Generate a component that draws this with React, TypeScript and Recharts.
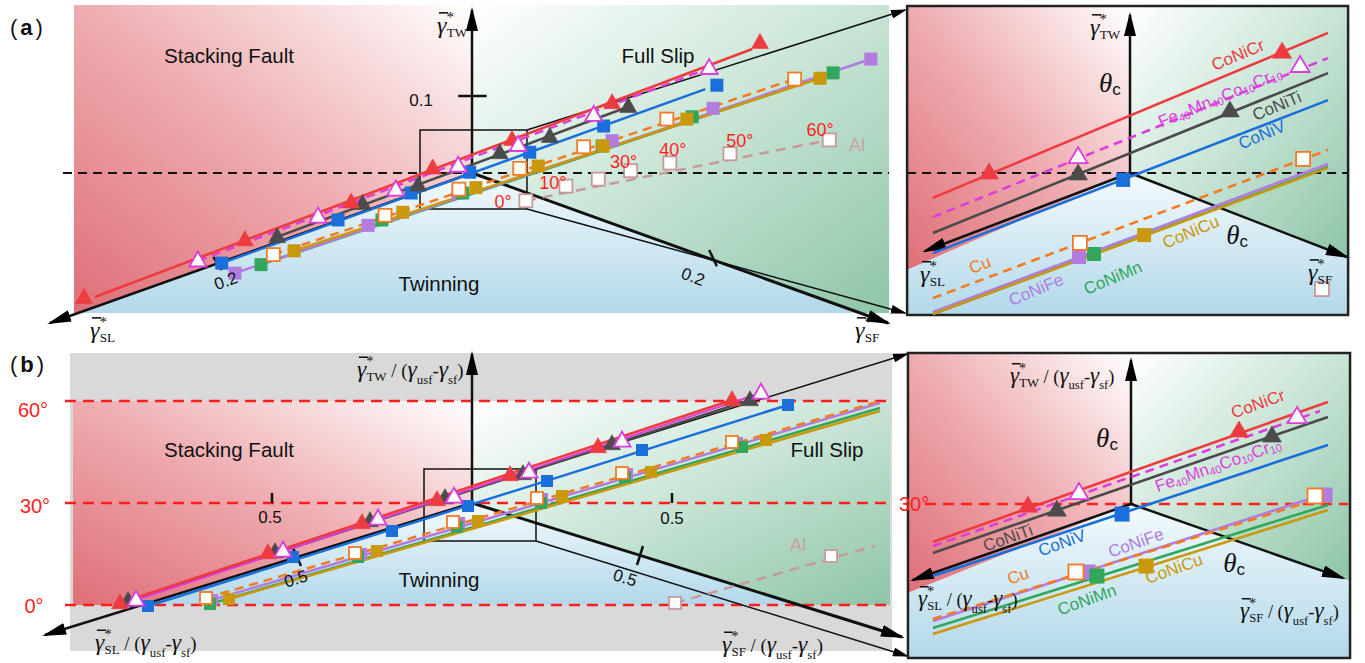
import React from 'react';
import { ComposedChart, XAxis, YAxis, Line, Scatter, Area, ReferenceLine, ReferenceDot, ReferenceArea } from 'recharts';

type T = [number, number];
type R = [number, number, number];

const SANS = "'Liberation Sans', Arial, Helvetica, sans-serif";
const SERIF = "'Liberation Serif', 'Times New Roman', 'DejaVu Serif', serif";

// ---------------- panel (a) main : marker positions (γ-plane units, 0.1 tick on γTW)
const aCoNiCr: T[] = [[-0.504, -0.162], [-0.295, -0.087], [-0.157, -0.038], [-0.051, 0.006], [0.052, 0.043], [0.182, 0.091], [0.374, 0.169]];
const aFe: T[] = [[-0.356, -0.114], [-0.2, -0.057], [-0.099, -0.022], [-0.018, 0.009], [0.06, 0.036], [0.158, 0.075], [0.308, 0.136]];
const aCoNiTi: T[] = [[-0.253, -0.083], [-0.142, -0.04], [-0.07, -0.016], [0.036, 0.026], [0.101, 0.047], [0.203, 0.086]];
const aCoNiV: T[] = [[-0.325, -0.117], [-0.174, -0.061], [-0.079, -0.026], [-0.003, 0.001], [0.075, 0.027], [0.171, 0.061], [0.318, 0.114]];
const aCu: T[] = [[-0.258, -0.106], [-0.113, -0.055], [-0.017, -0.021], [0.062, 0.006], [0.145, 0.034], [0.253, 0.07], [0.419, 0.122]];
const aCoNiFe: T[] = [[-0.308, -0.13], [-0.135, -0.068], [-0.018, -0.026], [0.182, 0.042], [0.313, 0.084], [0.518, 0.148]];
const aCoNiMn: T[] = [[-0.274, -0.119], [-0.117, -0.061], [-0.012, -0.026], [0.169, 0.035], [0.286, 0.073], [0.469, 0.13]];
const aCoNiCu: T[] = [[-0.231, -0.101], [-0.09, -0.051], [0.005, -0.019], [0.086, 0.009], [0.17, 0.035], [0.279, 0.07], [0.452, 0.123]];
const aAl: T[] = [[0.07, -0.036], [0.122, -0.017], [0.164, -0.008], [0.206, 0.003], [0.257, 0.013], [0.335, 0.025], [0.464, 0.043]];
const aAlAngles = ['0°', '10°', '', '30°', '40°', '50°', '60°'];
// fitted lines (end points)
const aLineCoNiCr: T[] = [[-0.49, -0.161], [0.364, 0.161]];
const aLineFe: T[] = [[-0.356, -0.114], [0.308, 0.136]];
const aLineCoNiTi: T[] = [[-0.253, -0.083], [0.203, 0.086]];
const aLineCoNiV: T[] = [[-0.325, -0.117], [0.303, 0.109]];
const aLineCu: T[] = [[-0.258, -0.106], [0.419, 0.122]];
const aLineCoNiFe: T[] = [[-0.308, -0.13], [0.518, 0.148]];
const aLineCoNiMn: T[] = [[-0.274, -0.119], [0.469, 0.13]];
const aLineCoNiCu: T[] = [[-0.231, -0.101], [0.452, 0.123]];
const aLineAl: T[] = [[0.07, -0.036], [0.464, 0.043]];

// ---------------- panel (a) inset
const iaCoNiCr: T[] = [[-0.047, 0.0], [0.0507, 0.0403]];
const iaFe: T[] = [[-0.0173, 0.0053], [0.0567, 0.0357]];
const iaCoNiTi: T[] = [[-0.0173, -0.0003], [0.0333, 0.0207]];
const iaCoNiV: T[] = [[-0.0023, -0.0023]];
const iaCu: T[] = [[-0.0167, -0.0233], [0.0577, 0.0047]];
const iaCoNiFe: T[] = [[-0.017, -0.028]];
const iaCoNiMn: T[] = [[-0.012, -0.027]];
const iaCoNiCu: T[] = [[0.0047, -0.0207]];
const iaAl: T[] = [[0.064, -0.0387]];
const iaLineCoNiCr: T[] = [[-0.0657, -0.0083], [0.066, 0.0467]];
const iaLineFe: T[] = [[-0.0657, -0.0147], [0.066, 0.0383]];
const iaLineCoNiTi: T[] = [[-0.0657, -0.02], [0.066, 0.0333]];
const iaLineCoNiV: T[] = [[-0.0657, -0.0267], [0.066, 0.0243]];
const iaLineCu: T[] = [[-0.0657, -0.0417], [0.066, 0.0077]];
const iaLineCoNiFe: T[] = [[-0.0657, -0.0463], [0.066, 0.003]];
const iaLineCoNiMn: T[] = [[-0.0657, -0.047], [0.066, 0.002]];
const iaLineCoNiCu: T[] = [[-0.0657, -0.047], [0.066, 0.0017]];

// ---------------- panel (b) main (normalised, 0.5 tick)
const bCoNiCr: T[] = [[-0.88, -0.25], [-0.51, -0.125], [-0.275, -0.05], [-0.0875, 0.0075], [0.095, 0.07], [0.315, 0.14], [0.65, 0.2575]];
const bFe: T[] = [[-0.84, -0.2425], [-0.4725, -0.12], [-0.235, -0.04], [-0.045, 0.015], [0.1425, 0.0775], [0.375, 0.155], [0.7225, 0.275]];
const bCoNiTi: T[] = [[-0.86, -0.245], [-0.4925, -0.1225], [-0.255, -0.045], [-0.0675, 0.0125], [0.1275, 0.0725], [0.35, 0.1475], [0.695, 0.2575]];
const bCoNiV: T[] = [[-0.81, -0.2575], [-0.4475, -0.135], [-0.2, -0.07], [-0.01, -0.0075], [0.1875, 0.055], [0.425, 0.1325], [0.79, 0.245]];
const bCu: T[] = [[-0.665, -0.2375], [-0.2925, -0.125], [-0.0475, -0.0475], [0.1625, 0.0125], [0.375, 0.075], [0.65, 0.1525]];
const bCoNiFe: T[] = [[-0.65, -0.2425], [-0.2775, -0.1275], [-0.0325, -0.05], [0.175, 0.01], [0.3875, 0.0725], [0.6625, 0.15]];
const bCoNiMn: T[] = [[-0.655, -0.2525], [-0.285, -0.135], [-0.0375, -0.06], [0.1725, 0.0], [0.3825, 0.065], [0.675, 0.14]];
const bCoNiCu: T[] = [[-0.6075, -0.24], [-0.2375, -0.12], [0.015, -0.045], [0.225, 0.0175], [0.4475, 0.0775], [0.735, 0.1575]];
const bAl: T[] = [[0.5075, -0.25], [0.8975, -0.1325]];
const bLineCoNiCr: T[] = [[-0.88, -0.25], [0.65, 0.2575]];
const bLineFe: T[] = [[-0.84, -0.2425], [0.7225, 0.275]];
const bLineCoNiTi: T[] = [[-0.86, -0.245], [0.695, 0.2575]];
const bLineCoNiV: T[] = [[-0.81, -0.2575], [0.79, 0.245]];
const bLineCu: T[] = [[-0.665, -0.2375], [1.02, 0.255]];
const bLineCoNiFe: T[] = [[-0.65, -0.2425], [1.02, 0.25]];
const bLineCoNiMn: T[] = [[-0.655, -0.2525], [1.02, 0.2375]];
const bLineCoNiCu: T[] = [[-0.6075, -0.24], [1.02, 0.23]];
const bLineAl: T[] = [[0.5075, -0.25], [1.0075, -0.1075]];

// ---------------- panel (b) inset
const ibCoNiCr: T[] = [[-0.0644, -0.0013], [0.0675, 0.0456]];
const ibFe: T[] = [[-0.0325, 0.0069], [0.1038, 0.0544]];
const ibCoNiTi: T[] = [[-0.0463, -0.0038], [0.0881, 0.0425]];
const ibCoNiV: T[] = [[-0.0056, -0.0063]];
const ibCu: T[] = [[-0.0344, -0.0425], [0.115, 0.005]];
const ibCoNiFe: T[] = [[-0.0269, -0.0425], [0.1213, 0.0056]];
const ibCoNiMn: T[] = [[-0.0213, -0.045]];
const ibCoNiCu: T[] = [[0.0094, -0.0388]];
const ibLineCoNiCr: T[] = [[-0.1238, -0.0238], [0.1231, 0.0638]];
const ibLineFe: T[] = [[-0.1238, -0.0263], [0.1181, 0.0581]];
const ibLineCoNiTi: T[] = [[-0.1238, -0.0306], [0.1231, 0.0544]];
const ibLineCoNiV: T[] = [[-0.1238, -0.045], [0.1231, 0.0369]];
const ibLineCu: T[] = [[-0.1238, -0.0719], [0.1231, 0.005]];
const ibLineCoNiFe: T[] = [[-0.1238, -0.0731], [0.1231, 0.0069]];
const ibLineCoNiMn: T[] = [[-0.1238, -0.0775], [0.1231, -0.0006]];
const ibLineCoNiCu: T[] = [[-0.1238, -0.0813], [0.1231, -0.0038]];

// ---------------- regions [x, low, high]
const aRed: R[] = [[-0.5169, -0.1818, 0.2182], [-0.5114, -0.1818, 0.2182], [0, 0, 0.2182]];
const aGreen: R[] = [[0, 0, 0.2182], [0.5042, -0.1818, 0.2182], [0.5416, -0.1818, 0.2182]];
const aBlue: R[] = [[-0.5114, -0.1818, -0.1818], [0, -0.1818, 0], [0.5042, -0.1818, -0.1818]];
const iaRed: R[] = [[-0.0743, -0.0323, 0.0557], [0, 0, 0.0557]];
const iaGreen: R[] = [[0, 0, 0.0557], [0.0727, -0.0283, 0.0557]];
const iaBlue: R[] = [[-0.0743, -0.0473, -0.0323], [0, -0.0473, 0], [0.0727, -0.0473, -0.0283]];
const bGray: R[] = [[-1.005, -0.37, 0.375], [1.05, -0.37, 0.375]];
const bRed: R[] = [[-0.9975, -0.255, 0.255], [-0.8252, -0.255, 0.255], [0, 0, 0.255]];
const bGreen: R[] = [[0, 0, 0.255], [0.8173, -0.255, 0.255], [1.045, -0.255, 0.255]];
const bBlue: R[] = [[-0.8252, -0.255, -0.255], [0, -0.255, 0], [0.8173, -0.255, -0.255]];
const ibRed: R[] = [[-0.1394, -0.0556, 0.0944], [0, 0, 0.0944]];
const ibGreen: R[] = [[0, 0, 0.0944], [0.1369, -0.0481, 0.0944]];
const ibBlue: R[] = [[-0.1394, -0.0963, -0.0556], [0, -0.0963, 0], [0.1369, -0.0963, -0.0481]];

// ---------------- styles
const SERIES: Record<string, { color: string; shape: string; hollow: boolean; dash?: string; name: string }> = {
  CoNiCr: { color: '#ee3b40', shape: 'tri', hollow: false, name: 'CoNiCr' },
  Fe: { color: '#dc3edc', shape: 'tri', hollow: true, dash: '9 6', name: 'Fe40Mn40Co10Cr10' },
  CoNiTi: { color: '#4b4b4b', shape: 'tri', hollow: false, name: 'CoNiTi' },
  CoNiV: { color: '#1b6fdb', shape: 'sq', hollow: false, name: 'CoNiV' },
  Cu: { color: '#f47a22', shape: 'sq', hollow: true, dash: '9 6', name: 'Cu' },
  CoNiFe: { color: '#b07ce0', shape: 'sq', hollow: false, name: 'CoNiFe' },
  CoNiMn: { color: '#30a75a', shape: 'sq', hollow: false, name: 'CoNiMn' },
  CoNiCu: { color: '#c9980d', shape: 'sq', hollow: false, name: 'CoNiCu' },
  Al: { color: '#c69a9a', shape: 'sq', hollow: true, dash: '10 7', name: 'Al' },
};
const LINE_ORDER = ['Al', 'CoNiMn', 'CoNiFe', 'CoNiCu', 'Cu', 'CoNiV', 'CoNiTi', 'Fe', 'CoNiCr'];
const MARK_ORDER = ['Al', 'CoNiFe', 'CoNiMn', 'CoNiCu', 'Cu', 'CoNiV', 'CoNiTi', 'CoNiCr', 'Fe'];
const RED = '#ff1f1f';

const xy = (a: T[]) => a.map(([x, y]) => ({ x, y }));
const xr = (a: R[]) => a.map(([x, lo, hi]) => ({ x, r: [lo, hi] }));

// ---------------- helpers
function seg(key: string, a: T, b: T, o: any = {}) {
  const color = o.color || '#111';
  const w = o.w || 2.5;
  return (
    <ReferenceLine
      key={key}
      segment={[{ x: a[0], y: a[1] }, { x: b[0], y: b[1] }]}
      ifOverflow="visible"
      zIndex={350}
      stroke={color}
      shape={(q: any) => (
        <line x1={q.x1} y1={q.y1} x2={q.x2} y2={q.y2} stroke={color} strokeWidth={w}
          strokeDasharray={o.dash} markerEnd={o.arrow ? `url(#${o.arrow})` : undefined} />
      )}
    />
  );
}

function note(key: string, at: T, node: (cx: number, cy: number) => React.ReactNode) {
  return (
    <ReferenceDot key={key} x={at[0]} y={at[1]} r={0} ifOverflow="visible" zIndex={2000}
      shape={(q: any) => <g>{node(q.cx, q.cy)}</g>} />
  );
}

const plain = (text: string, o: any = {}) => (cx: number, cy: number) => (
  <text x={cx} y={cy} textAnchor="middle" dominantBaseline="central" fontFamily={o.family || SANS}
    fontSize={o.size || 17} fill={o.color || '#111'} fontWeight={o.weight}
    transform={o.rot ? `rotate(${o.rot} ${cx} ${cy})` : undefined}>{text}</text>
);

const feLabel = (rot: number) => (cx: number, cy: number) => (
  <text x={cx} y={cy} textAnchor="middle" dominantBaseline="central" fontFamily={SANS} fontSize={17}
    fill={SERIES.Fe.color} transform={`rotate(${rot} ${cx} ${cy})`}>
    Fe<tspan fontSize={11} dy={4}>40</tspan><tspan dy={-4}>Mn</tspan><tspan fontSize={11} dy={4}>40</tspan>
    <tspan dy={-4}>Co</tspan><tspan fontSize={11} dy={4}>10</tspan><tspan dy={-4}>Cr</tspan>
    <tspan fontSize={11} dy={4}>10</tspan>
  </text>
);

const theta = (cx: number, cy: number) => (
  <text x={cx} y={cy} textAnchor="middle" dominantBaseline="central" fill="#111">
    <tspan fontFamily={SERIF} fontStyle="italic" fontSize={27}>θ</tspan>
    <tspan fontFamily={SANS} fontSize={17} dy={6}>c</tspan>
  </text>
);

// γ̄* label: overbar drawn as a short stroke over the italic γ
const gam = (sub: string, norm: boolean, s: number) => (cx: number, cy: number) => (
  <g>
    <line x1={cx + s * 0.08} x2={cx + s * 0.46} y1={cy - s * 0.84} y2={cy - s * 0.84} stroke="#111"
      strokeWidth={Math.max(1.3, s * 0.065)} />
    <text x={cx} y={cy} fontFamily={SERIF} fontSize={s} fill="#111">
      <tspan fontStyle="italic">γ</tspan>
      <tspan fontSize={s * 0.62} dy={-s * 0.45}>*</tspan>
      <tspan fontSize={s * 0.55} dx={-s * 0.3} dy={s * 0.63}>{sub}</tspan>
      {norm ? <tspan fontSize={s * 0.8} dy={-s * 0.18}>{' / ('}</tspan> : null}
      {norm ? <tspan fontStyle="italic">γ</tspan> : null}
      {norm ? <tspan fontSize={s * 0.55} dy={s * 0.28}>usf</tspan> : null}
      {norm ? <tspan fontSize={s * 0.8} dy={-s * 0.28}>-</tspan> : null}
      {norm ? <tspan fontStyle="italic">γ</tspan> : null}
      {norm ? <tspan fontSize={s * 0.55} dy={s * 0.28}>sf</tspan> : null}
      {norm ? <tspan fontSize={s * 0.8} dy={-s * 0.28}>)</tspan> : null}
    </text>
  </g>
);

const panelTag = (letter: string) => (cx: number, cy: number) => (
  <text x={cx} y={cy} fontFamily={SANS} fontSize={22} fill="#111">
    (<tspan fontWeight="bold" dx={3}>{letter}</tspan><tspan dx={3}>)</tspan>
  </text>
);

const markShape = (key: string, sz: any) => (q: any) => {
  const st = SERIES[key];
  const cx = q.cx, cy = q.cy;
  if (cx == null || cy == null) return <g />;
  if (st.shape === 'tri') {
    const w = sz.tw, h = sz.th;
    const p = `${cx},${cy - h * 0.62} ${cx - w / 2},${cy + h * 0.38} ${cx + w / 2},${cy + h * 0.38}`;
    return <polygon points={p} fill={st.hollow ? '#fff' : st.color} stroke={st.color} strokeWidth={st.hollow ? 1.8 : 0.6} />;
  }
  const s = sz.sq;
  return <rect x={cx - s / 2} y={cy - s / 2} width={s} height={s} fill={st.hollow ? '#fff' : st.color}
    stroke={st.hollow ? st.color : 'none'} strokeWidth={1.8} />;
};

function Defs({ id }: { id: string }) {
  return (
    <defs>
      <linearGradient id={`${id}-red`} x1="0" y1="1" x2="1" y2="0">
        <stop offset="0" stopColor="#df6f77" />
        <stop offset="0.5" stopColor="#eeacb0" />
        <stop offset="1" stopColor="#ffffff" />
      </linearGradient>
      <linearGradient id={`${id}-green`} x1="0" y1="0" x2="1" y2="1">
        <stop offset="0" stopColor="#ffffff" />
        <stop offset="0.45" stopColor="#cde7d9" />
        <stop offset="1" stopColor="#8ec5a8" />
      </linearGradient>
      <linearGradient id={`${id}-blue`} x1="0" y1="0" x2="0" y2="1">
        <stop offset="0" stopColor="#f4fafd" />
        <stop offset="1" stopColor="#b2d8ea" />
      </linearGradient>
      <marker id={`${id}-arr`} viewBox="0 0 24 12" refX="21" refY="6" markerWidth="24" markerHeight="12"
        markerUnits="userSpaceOnUse" orient="auto">
        <path d="M0,0 L24,6 L0,12 z" fill="#000" />
      </marker>
      <marker id={`${id}-arrs`} viewBox="0 0 16 9" refX="14" refY="4.5" markerWidth="16" markerHeight="9"
        markerUnits="userSpaceOnUse" orient="auto">
        <path d="M0,0 L16,4.5 L0,9 z" fill="#000" />
      </marker>
    </defs>
  );
}

function Panel({ cfg }: { cfg: any }) {
  const { id, L, pts, lines, regions, sz, lw, back, axes, notes } = cfg;
  const solid: string[] = cfg.solid || [];
  const xd = [-L.ox / L.s, (L.w - L.ox) / L.s];
  const yd = [(L.oy - L.h) / L.s, L.oy / L.s];
  return (
    <div style={{ position: 'absolute', left: L.left, top: L.top, width: L.w, height: L.h }}>
      <ComposedChart width={L.w} height={L.h} margin={{ top: 0, right: 0, bottom: 0, left: 0 }}>
        <Defs id={id} />
        <XAxis type="number" dataKey="x" domain={xd} hide allowDataOverflow />
        <YAxis type="number" dataKey="y" domain={yd} hide allowDataOverflow />
        {regions.map((g: any, i: number) => (
          <Area key={`rg${i}`} data={xr(g.data)} dataKey="r" type="linear" stroke="none"
            fill={g.fill.startsWith('#') ? g.fill : `url(#${id}-${g.fill})`} fillOpacity={1}
            isAnimationActive={false} dot={false} activeDot={false} legendType="none" />
        ))}
        {back}
        {LINE_ORDER.filter((k) => lines[k]).map((k) => (
          <Line key={`ln-${k}`} data={xy(lines[k])} dataKey="y" type="linear" stroke={SERIES[k].color}
            strokeWidth={solid.includes(k) ? 2 : lw} strokeDasharray={solid.includes(k) ? undefined : SERIES[k].dash}
            dot={false} activeDot={false} isAnimationActive={false} legendType="none" />
        ))}
        {axes}
        {MARK_ORDER.filter((k) => pts[k]).map((k) => (
          <Scatter key={`mk-${k}`} data={xy(pts[k])} dataKey="y" isAnimationActive={false}
            shape={markShape(k, sz)} legendType="none" />
        ))}
        {notes}
      </ComposedChart>
    </div>
  );
}

// ---------------- panel configs
const aMain = {
  id: 'am',
  L: { left: 0, top: 0, w: 912, h: 362, ox: 472, oy: 173, s: 770 },
  pts: { CoNiCr: aCoNiCr, Fe: aFe, CoNiTi: aCoNiTi, CoNiV: aCoNiV, Cu: aCu, CoNiFe: aCoNiFe, CoNiMn: aCoNiMn, CoNiCu: aCoNiCu, Al: aAl },
  lines: { CoNiCr: aLineCoNiCr, Fe: aLineFe, CoNiTi: aLineCoNiTi, CoNiV: aLineCoNiV, Cu: aLineCu, CoNiFe: aLineCoNiFe, CoNiMn: aLineCoNiMn, CoNiCu: aLineCoNiCu, Al: aLineAl },
  regions: [{ data: aRed, fill: 'red' }, { data: aGreen, fill: 'green' }, { data: aBlue, fill: 'blue' }],
  sz: { tw: 17, th: 15, sq: 13 },
  lw: 2.5,
  back: [
    seg('dash', [-0.5312, 0], [0.5416, 0], { w: 1.8, dash: '9 6' }),
  ],
  axes: [
    seg('tw', [0, 0], [0, 0.2117], { arrow: 'am-arr' }),
    seg('sl', [0, 0], [-0.548, -0.1948], { arrow: 'am-arr' }),
    seg('sf', [0, 0], [0.5403, -0.1948], { arrow: 'am-arr', w: 3 }),
    seg('t1', [-0.018, 0.1], [0.019, 0.1]),
    seg('t2', [-0.336, -0.109], [-0.325, -0.126]),
    seg('t3', [0.308, -0.1], [0.318, -0.121]),
    seg('c1', [0.0714, 0.0558], [0.5623, 0.2117], { w: 1.5, arrow: 'am-arrs' }),
    seg('c2', [0.0714, -0.0468], [0.5623, -0.1818], { w: 1.5, arrow: 'am-arrs' }),
    <ReferenceArea key="box" x1={-0.0675} x2={0.0714} y1={-0.0468} y2={0.0558} fill="none" fillOpacity={0}
      stroke="#111" strokeWidth={1.5} ifOverflow="visible" zIndex={350} />,
  ],
  notes: [
    note('tag', [-0.6, 0.1792], panelTag('a')),
    note('sfl', [-0.3156, 0.152], plain('Stacking Fault', { size: 20.5 })),
    note('fsl', [0.2416, 0.152], plain('Full Slip', { size: 20.5 })),
    note('twl', [-0.0429, -0.1429], plain('Twinning', { size: 20.5 })),
    note('v01', [-0.0662, 0.0948], plain('0.1', { size: 17 })),
    note('v02a', [-0.3195, -0.1403], plain('0.2', { size: 17, rot: -20 })),
    note('v02b', [0.287, -0.135], plain('0.2', { size: 17, rot: 20 })),
    note('ang0', [0.0403, -0.0377], plain(aAlAngles[0], { size: 18, color: RED })),
    note('ang1', [0.105, -0.013], plain(aAlAngles[1], { size: 18, color: RED })),
    note('ang3', [0.197, 0.0143], plain(aAlAngles[3], { size: 18, color: RED })),
    note('ang4', [0.261, 0.0299], plain(aAlAngles[4], { size: 18, color: RED })),
    note('ang5', [0.348, 0.0416], plain(aAlAngles[5], { size: 18, color: RED })),
    note('ang6', [0.452, 0.0558], plain(aAlAngles[6], { size: 18, color: RED })),
    note('al', [0.5, 0.0364], plain('Al', { size: 18, color: '#c9a3a3' })),
    note('gtw', [-0.0455, 0.1818], gam('TW', false, 24)),
    note('gsl', [-0.4961, -0.2143], gam('SL', false, 24)),
    note('gsf', [0.4974, -0.2143], gam('SF', false, 24)),
  ],
};

const ROT_IA = -22.7;
const aInset = {
  id: 'ai',
  L: { left: 900, top: 0, w: 465, h: 330, ox: 230, oy: 173, s: 3000 },
  pts: { CoNiCr: iaCoNiCr, Fe: iaFe, CoNiTi: iaCoNiTi, CoNiV: iaCoNiV, Cu: iaCu, CoNiFe: iaCoNiFe, CoNiMn: iaCoNiMn, CoNiCu: iaCoNiCu, Al: iaAl },
  lines: { CoNiCr: iaLineCoNiCr, Fe: iaLineFe, CoNiTi: iaLineCoNiTi, CoNiV: iaLineCoNiV, Cu: iaLineCu, CoNiFe: iaLineCoNiFe, CoNiMn: iaLineCoNiMn, CoNiCu: iaLineCoNiCu },
  regions: [{ data: iaRed, fill: 'red' }, { data: iaGreen, fill: 'green' }, { data: iaBlue, fill: 'blue' }],
  sz: { tw: 19, th: 16, sq: 14 },
  lw: 2.6,
  back: [seg('dash', [-0.0743, 0], [0.0727, 0], { w: 1.8, dash: '9 6' })],
  axes: [
    seg('tw', [0, 0], [0, 0.0527], { arrow: 'ai-arr' }),
    seg('sl', [0, 0], [-0.0683, -0.026], { arrow: 'ai-arr' }),
    seg('sf', [0, 0], [0.0723, -0.028], { arrow: 'ai-arr' }),
    <ReferenceArea key="border" x1={-0.0743} x2={0.0727} y1={-0.0473} y2={0.0557} fill="none" fillOpacity={0}
      stroke="#222" strokeWidth={2.5} ifOverflow="visible" zIndex={350} />,
  ],
  notes: [
    note('cr', [0.036, 0.0393], plain('CoNiCr', { color: SERIES.CoNiCr.color, rot: ROT_IA })),
    note('fe', [0.03, 0.0253], feLabel(ROT_IA)),
    note('ti', [0.049, 0.0223], plain('CoNiTi', { color: SERIES.CoNiTi.color, rot: ROT_IA })),
    note('v', [0.044, 0.0127], plain('CoNiV', { color: SERIES.CoNiV.color, rot: ROT_IA })),
    note('cu', [-0.05, -0.0307], plain('Cu', { color: SERIES.Cu.color, rot: ROT_IA })),
    note('nfe', [-0.0313, -0.039], plain('CoNiFe', { color: SERIES.CoNiFe.color, rot: ROT_IA })),
    note('mn', [-0.0057, -0.035], plain('CoNiMn', { color: SERIES.CoNiMn.color, rot: ROT_IA })),
    note('ncu', [0.0203, -0.0197], plain('CoNiCu', { color: SERIES.CoNiCu.color, rot: ROT_IA })),
    note('th1', [-0.0067, 0.03], theta),
    note('th2', [0.0357, -0.0207], theta),
    note('gtw', [-0.0133, 0.046], gam('TW', false, 24)),
    note('gsl', [-0.07, -0.0363], gam('SL', false, 24)),
    note('gsf', [0.0593, -0.0357], gam('SF', false, 24)),
  ],
};

const bMain = {
  id: 'bm',
  L: { left: 0, top: 330, w: 912, h: 333, ox: 472, oy: 173, s: 400 },
  pts: { CoNiCr: bCoNiCr, Fe: bFe, CoNiTi: bCoNiTi, CoNiV: bCoNiV, Cu: bCu, CoNiFe: bCoNiFe, CoNiMn: bCoNiMn, CoNiCu: bCoNiCu, Al: bAl },
  lines: { CoNiCr: bLineCoNiCr, Fe: bLineFe, CoNiTi: bLineCoNiTi, CoNiV: bLineCoNiV, Cu: bLineCu, CoNiFe: bLineCoNiFe, CoNiMn: bLineCoNiMn, CoNiCu: bLineCoNiCu, Al: bLineAl },
  solid: ['Fe'],
  regions: [{ data: bGray, fill: '#d9d9d9' }, { data: bRed, fill: 'red' }, { data: bGreen, fill: 'green' }, { data: bBlue, fill: 'blue' }],
  sz: { tw: 17, th: 15, sq: 12 },
  lw: 2.5,
  back: [
    seg('d60', [-1.0175, 0.255], [1.045, 0.255], { w: 2.5, dash: '11 7', color: RED }),
    seg('d30', [-1.0175, 0], [1.045, 0], { w: 2.5, dash: '11 7', color: RED }),
    seg('d0', [-1.0175, -0.255], [1.045, -0.255], { w: 2.5, dash: '11 7', color: RED }),
  ],
  axes: [
    seg('tw', [0, 0], [0, 0.3725], { arrow: 'bm-arr' }),
    seg('sl', [0, 0], [-1.0675, -0.33], { arrow: 'bm-arr' }),
    seg('sf', [0, 0], [1.075, -0.335], { arrow: 'bm-arr', w: 3 }),
    seg('t1', [-0.5, 0], [-0.5, 0.025]),
    seg('t2', [0.5, 0], [0.5, 0.025]),
    seg('t3', [-0.4475, -0.1125], [-0.4275, -0.1575]),
    seg('t4', [0.4275, -0.1075], [0.4125, -0.155]),
    seg('c1', [0.16, 0.085], [1.0875, 0.3725], { w: 1.5, arrow: 'bm-arrs' }),
    seg('c2', [0.16, -0.095], [1.0875, -0.3825], { w: 1.5, arrow: 'bm-arrs' }),
    <ReferenceArea key="box" x1={-0.12} x2={0.16} y1={-0.095} y2={0.085} fill="none" fillOpacity={0}
      stroke="#111" strokeWidth={1.5} ifOverflow="visible" zIndex={350} />,
  ],
  notes: [
    note('tag', [-1.155, 0.3275], panelTag('b')),
    note('a60', [-1.0975, 0.2325], plain('60°', { size: 20, color: RED })),
    note('a30', [-1.0925, -0.0075], plain('30°', { size: 20, color: RED })),
    note('a0', [-1.095, -0.2575], plain('0°', { size: 20, color: RED })),
    note('h1', [-0.505, -0.035], plain('0.5', { size: 17 })),
    note('h2', [0.5, -0.0375], plain('0.5', { size: 17 })),
    note('h3', [-0.44, -0.19], plain('0.5', { size: 17, rot: -17 })),
    note('h4', [0.3825, -0.1875], plain('0.5', { size: 17, rot: 17 })),
    note('sfl', [-0.6075, 0.135], plain('Stacking Fault', { size: 20.5 })),
    note('fsl', [0.8875, 0.135], plain('Full Slip', { size: 20.5 })),
    note('twl', [-0.0825, -0.19], plain('Twinning', { size: 20.5 })),
    note('al', [0.815, -0.105], plain('Al', { size: 18, color: '#c9a3a3' })),
    note('gtw', [-0.2875, 0.315], gam('TW', true, 23.5)),
    note('gsl', [-0.9425, -0.3675], gam('SL', true, 23.5)),
    note('gsf', [0.625, -0.3725], gam('SF', true, 23.5)),
  ],
};

const ROT_IB = -19.5;
const bInset = {
  id: 'bi',
  L: { left: 885, top: 340, w: 480, h: 323, ox: 246, oy: 164, s: 1600 },
  pts: { CoNiCr: ibCoNiCr, Fe: ibFe, CoNiTi: ibCoNiTi, CoNiV: ibCoNiV, Cu: ibCu, CoNiFe: ibCoNiFe, CoNiMn: ibCoNiMn, CoNiCu: ibCoNiCu },
  lines: { CoNiCr: ibLineCoNiCr, Fe: ibLineFe, CoNiTi: ibLineCoNiTi, CoNiV: ibLineCoNiV, Cu: ibLineCu, CoNiFe: ibLineCoNiFe, CoNiMn: ibLineCoNiMn, CoNiCu: ibLineCoNiCu },
  regions: [{ data: ibRed, fill: 'red' }, { data: ibGreen, fill: 'green' }, { data: ibBlue, fill: 'blue' }],
  sz: { tw: 19, th: 16, sq: 15 },
  lw: 2.6,
  back: [seg('d30', [-0.1288, 0], [0.1356, 0], { w: 2.5, dash: '11 7', color: RED })],
  axes: [
    seg('tw', [0, 0], [0, 0.09], { arrow: 'bi-arr' }),
    seg('sl', [0, 0], [-0.1363, -0.0475], { arrow: 'bi-arr' }),
    seg('sf', [0, 0], [0.1325, -0.0463], { arrow: 'bi-arr' }),
    <ReferenceArea key="border" x1={-0.1394} x2={0.1369} y1={-0.0963} y2={0.0944} fill="none" fillOpacity={0}
      stroke="#222" strokeWidth={2.5} ifOverflow="visible" zIndex={350} />,
  ],
  notes: [
    note('a30', [-0.1356, 0], plain('30°', { size: 20, color: RED })),
    note('cr', [0.0794, 0.0625], plain('CoNiCr', { color: SERIES.CoNiCr.color, rot: ROT_IB })),
    note('fe', [0.0544, 0.0244], feLabel(ROT_IB)),
    note('ti', [-0.0769, -0.0213], plain('CoNiTi', { color: SERIES.CoNiTi.color, rot: ROT_IB })),
    note('v', [-0.0431, -0.0244], plain('CoNiV', { color: SERIES.CoNiV.color, rot: ROT_IB })),
    note('nfe', [0.0031, -0.0244], plain('CoNiFe', { color: SERIES.CoNiFe.color, rot: ROT_IB })),
    note('cu', [-0.0706, -0.045], plain('Cu', { color: SERIES.Cu.color, rot: ROT_IB })),
    note('mn', [-0.0275, -0.06], plain('CoNiMn', { color: SERIES.CoNiMn.color, rot: ROT_IB })),
    note('ncu', [0.0269, -0.0406], plain('CoNiCu', { color: SERIES.CoNiCu.color, rot: ROT_IB })),
    note('th1', [-0.015, 0.0413], theta),
    note('th2', [0.0644, -0.0369], theta),
    note('gtw', [-0.0756, 0.0756], gam('TW', true, 23)),
    note('gsl', [-0.1331, -0.0638], gam('SL', true, 23)),
    note('gsf', [0.0681, -0.0713], gam('SF', true, 23)),
  ],
};

export default function App() {
  return (
    <div style={{ position: 'absolute', left: 0, top: 0, width: 1365, height: 663, background: '#fff', overflow: 'hidden' }}>
      <Panel cfg={aMain} />
      <Panel cfg={bMain} />
      <Panel cfg={aInset} />
      <Panel cfg={bInset} />
    </div>
  );
}
